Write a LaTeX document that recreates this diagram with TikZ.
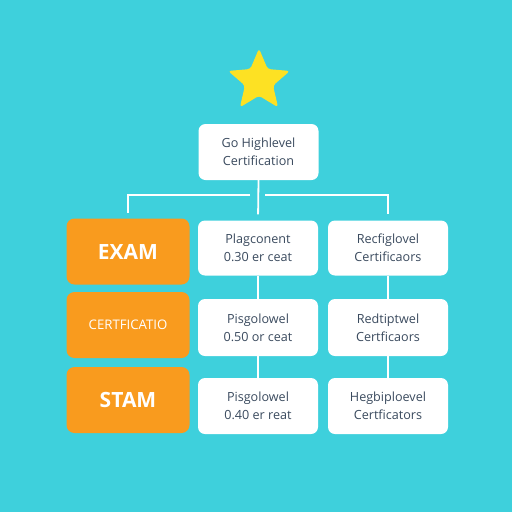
\documentclass[tikz,border=0pt]{standalone}
\usepackage{fontspec}
\setmainfont{Open Sans}
\usepackage{xcolor}
\usetikzlibrary{shapes.geometric}
\definecolor{hlSky}{HTML}{3ED0DC}
\definecolor{hlOrange}{HTML}{F99B1E}
\definecolor{hlStar}{HTML}{FDE123}
\definecolor{hlInk}{HTML}{3A4A5E}

\begin{document}
\begin{tikzpicture}[x=1pt,y=-1pt,
    card/.style={draw=none, fill=white, rounded corners=7pt, minimum width=120pt,
      align=center, text=hlInk, font=\fontsize{12.6}{18}\selectfont},
    examcard/.style={fill=hlOrange, rounded corners=8pt, minimum width=123pt,
      minimum height=66pt, text=white, align=center},
    link/.style={draw=white, line width=1.8pt}]
    \fill[hlSky] (0,0) rectangle (512,512);
    \node[star, star points=5, star point ratio=2.2, minimum size=65pt, inner sep=0pt,
      fill=hlStar, rounded corners=3pt] (star) at (259,81) {};
    % top node
    \node[card, minimum height=56pt] (top) at (258.5,152) {Go Highlevel\\Certification};
    % left column
    \node[examcard, font=\fontsize{21}{24}\selectfont\bfseries] (exam) at (128,251.5) {EXAM};
    \node[examcard, font=\fontsize{13.2}{15}\selectfont] (cert) at (128,325) {CERTFICATIO};
    \node[examcard, font=\fontsize{21}{24}\selectfont\bfseries] (stam) at (128,400) {STAM};
    % middle column
    \node[card, minimum height=55pt] (midA) at (258,248) {Plagconent\\0.30 er ceat};
    \node[card, minimum height=57pt] (midB) at (258,327.5) {Pisgolowel\\0.50 or ceat};
    \node[card, minimum height=56pt] (midC) at (258,406) {Pisgolowel\\0.40 er reat};
    % right column
    \node[card, minimum height=55pt] (rgtA) at (388,248) {Recfiglovel\\Certificaors};
    \node[card, minimum height=57pt] (rgtB) at (388,327.5) {Redtiptwel\\Certficaors};
    \node[card, minimum height=56pt] (rgtC) at (388,406) {Hegbiploevel\\Certficators};
    % connectors
    \coordinate (splitL) at (250,195);
    \coordinate (splitR) at (265,195);
    \draw[link, shorten >=6pt] (top.south) -- (midA.north);
    \draw[link, shorten >=5pt] (splitL) -| (exam.north);
    \draw[link, shorten >=6pt] (splitR) -| (rgtA.north);
    \draw[link] (midA.south) -- (midB.north);
    \draw[link] (midB.south) -- (midC.north);
    \draw[link] (rgtA.south) -- (rgtB.north);
    \draw[link] (rgtB.south) -- (rgtC.north);
\end{tikzpicture}
\end{document}
